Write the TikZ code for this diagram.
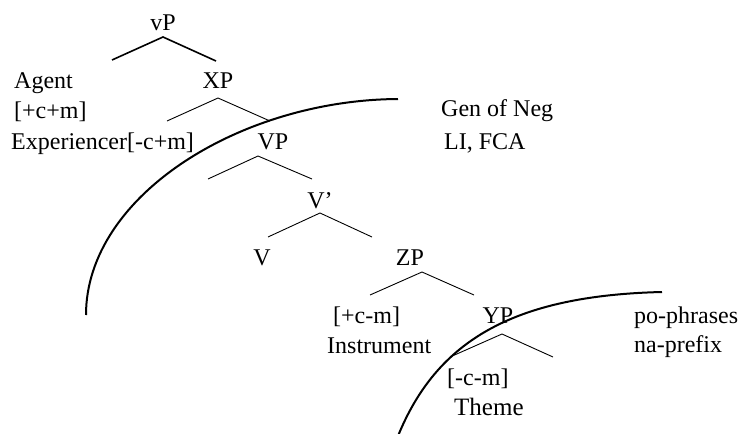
\documentclass[tikz,border=0pt]{standalone}
\usepackage{fontspec}
\setmainfont{Liberation Serif}
\usepackage{tikz}
\usetikzlibrary{calc}
\tikzset{
	lbl/.style={inner sep=0pt, anchor=base},
	lblw/.style={inner sep=0pt, anchor=base west},
	branch/.style={line width=0.9pt},
	topbranch/.style={line width=1.6pt},
	domainarc/.style={line width=2pt}
}

\begin{document}
\begin{tikzpicture}[x=1pt, y=-1pt, font=\fontsize{24}{28}\selectfont]
			%%%%% START %%%%%
			\useasboundingbox (0, 0) rectangle (740, 434);
			
			% tree labels
			\node[lbl] (vP) at (163, 30) {vP};
			\node[lblw] (agent) at (14, 88) {Agent};
			\node[lblw] (agentf) at (14, 118) {[+c+m]};
			\node[lbl] (XP) at (218, 88) {XP};
			\node[lblw] (exper) at (11, 149) {Experiencer[-c+m]};
			\node[lbl] (VP) at (273, 149) {VP};
			\node[lbl] (Vbar) at (320, 208) {V’};
			\node[lbl] (V) at (262, 265) {V};
			\node[lbl] (ZP) at (410, 265) {ZP};
			\node[lblw] (instrf) at (333, 323) {[+c-m]};
			\node[lblw] (instr) at (327, 353) {Instrument};
			\node[lbl] (YP) at (498, 323) {YP};
			\node[lblw] (themef) at (447, 385) {[-c-m]};
			\node[lblw, font=\fontsize{25}{28}\selectfont] (theme) at (454, 415) {Theme};
			
			% domain labels
			\node[lblw] (gen) at (441, 116) {Gen of Neg};
			\node[lblw] (lifca) at (444, 149) {LI, FCA};
			\node[lblw] (po) at (634, 323) {po-phrases};
			\node[lblw] (na) at (634, 352) {na-prefix};
			
			% branch ends
			\coordinate (vp-l) at (112, 60);
			\coordinate (vp-r) at (216, 61);
			\coordinate (xp-l) at (167, 121);
			\coordinate (xp-r) at (270, 121);
			\coordinate (VP-l) at (208, 179);
			\coordinate (VP-r) at (312, 179);
			\coordinate (vb-l) at (268, 237);
			\coordinate (vb-r) at (372, 237);
			\coordinate (zp-l) at (370, 295);
			\coordinate (zp-r) at (474, 295);
			\coordinate (yp-l) at (450, 357);
			\coordinate (yp-r) at (553, 357);
			
			\draw[topbranch] (vp-l) -- ([yshift=-7pt]vP.base) -- (vp-r);
			\draw[branch] (xp-l) -- ([yshift=-10pt]XP.base) -- (xp-r);
			\draw[branch] (VP-l) -- ([shift={(-15pt,-7pt)}]VP.base) -- (VP-r);
			\draw[branch] (vb-l) -- ([yshift=-5pt]Vbar.base) -- (vb-r);
			\draw[branch] (zp-l) -- ([shift={(12pt,-7pt)}]ZP.base) -- (zp-r);
			\draw[branch] (yp-l) -- ([shift={(4pt,-11pt)}]YP.base) -- (yp-r);
			
			% domains
			\draw[domainarc] (86, 315) .. controls (86, 196) and (240, 100) .. (398, 99);
			\draw[domainarc] (398, 436) .. controls (436.5, 341.7) and (512, 295.6) .. (662, 292);
			%%%%% END %%%%%
\end{tikzpicture}
\end{document}
